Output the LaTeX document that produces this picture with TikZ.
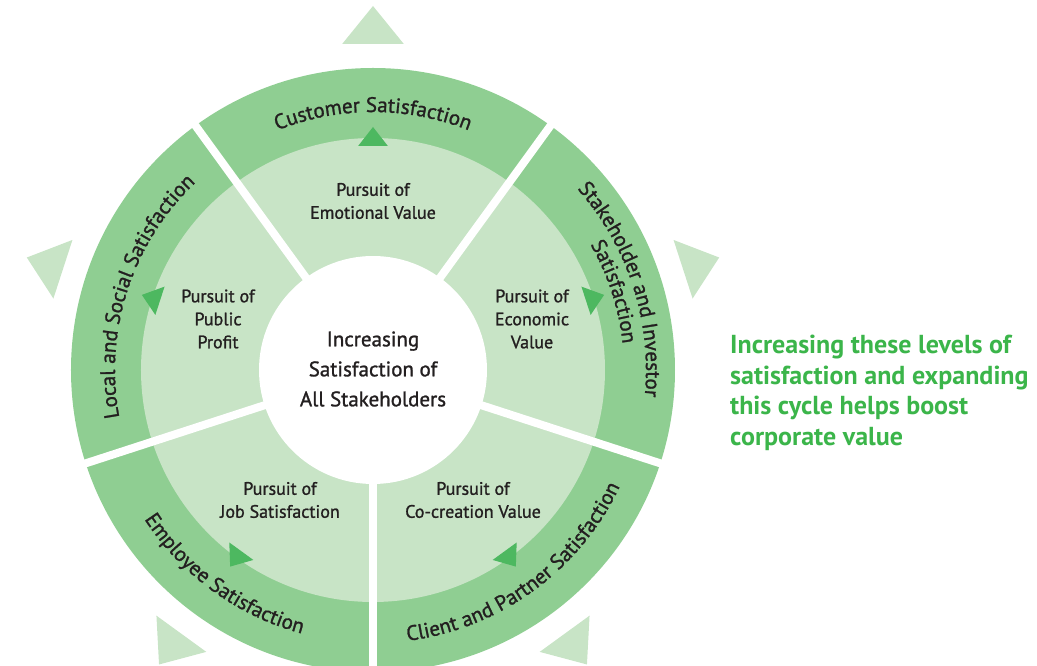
\documentclass[tikz,border=0pt]{standalone}
\usepackage{fontspec}
\setmainfont{PT Sans}
\newfontfamily\medfont[FakeBold=1.2]{PT Sans}
\usetikzlibrary{decorations.text}

\definecolor{ringgreen}{RGB}{143,206,146}
\definecolor{palegreen}{RGB}{200,228,198}
\definecolor{arrowgreen}{RGB}{77,184,96}
\definecolor{textgreen}{RGB}{59,181,74}
\definecolor{darktext}{RGB}{35,31,32}

\newcommand{\ringfont}{\medfont\fontsize{21}{24}\selectfont\color{darktext}}

\begin{document}
\begin{tikzpicture}[x=1pt, y=1pt,
    pursuit/.style={align=center, text=darktext, inner sep=0pt,
      font=\medfont\fontsize{18}{23}\selectfont},
    core/.style={align=center, text=darktext, inner sep=0pt,
      font=\medfont\fontsize{21}{30}\selectfont},
    ringtext/.style={decorate, decoration={text along path, text align=center}}]
    \useasboundingbox (-373,-296) rectangle (664,370);

    % rings
    \fill[ringgreen] (0,0) circle[radius=302];
    \fill[palegreen] (0,0) circle[radius=232];
    \foreach \a in {-90,-18,54,126,198}
        \draw[white, line width=8pt] (0,0) -- (\a:320);
    \fill[white] (0,0) circle[radius=114];

    % triangles
    \foreach \a in {18,90,162,234,306} {
        \fill[palegreen] (\a:364) -- (\a+5.4:327.5) -- (\a-5.4:327.5) -- cycle;
        \fill[arrowgreen] (\a:243) -- (\a+3.8:224.5) -- (\a-3.8:224.5) -- cycle;
    }

    % labels on the outer ring
    \path[ringtext, decoration={text={|\ringfont|Customer Satisfaction}}]
        (126:258) arc[start angle=126, end angle=54, radius=258];
    \path[ringtext, decoration={text={|\ringfont|Local and Social Satisfaction}}]
        (198:258) arc[start angle=198, end angle=126, radius=258];
    \path[ringtext, decoration={text={|\ringfont|Stakeholder and Investor}}]
        (54:273) arc[start angle=54, end angle=-18, radius=273];
    \path[ringtext, decoration={text={|\ringfont|Satisfaction}}]
        (54:251) arc[start angle=54, end angle=-18, radius=251];
    \path[ringtext, decoration={text={|\ringfont|Employee Satisfaction}}]
        (198:273) arc[start angle=198, end angle=270, radius=273];
    \path[ringtext, decoration={text={|\ringfont|Client and Partner Satisfaction}}]
        (270:273) arc[start angle=270, end angle=342, radius=273];

    % labels in the middle ring
    \node[pursuit] (emotional) at (0,169) {Pursuit of\\Emotional Value};
    \node[pursuit] (public) at (-155,51) {Pursuit of\\Public\\Profit};
    \node[pursuit] (economic) at (159,51) {Pursuit of\\Economic\\Value};
    \node[pursuit] (job) at (-93,-130) {Pursuit of\\Job Satisfaction};
    \node[pursuit] (cocreation) at (100,-130) {Pursuit of\\Co-creation Value};

    \node[core] (all) at (0,1) {Increasing\\Satisfaction of\\All Stakeholders};

    \node[anchor=north west, align=left, inner sep=0pt, text=textgreen,
        font=\fontsize{26}{30.5}\selectfont\bfseries] (message) at (357,35)
        {Increasing these levels of\\satisfaction and expanding\\this cycle helps boost\\corporate value};
\end{tikzpicture}
\end{document}
